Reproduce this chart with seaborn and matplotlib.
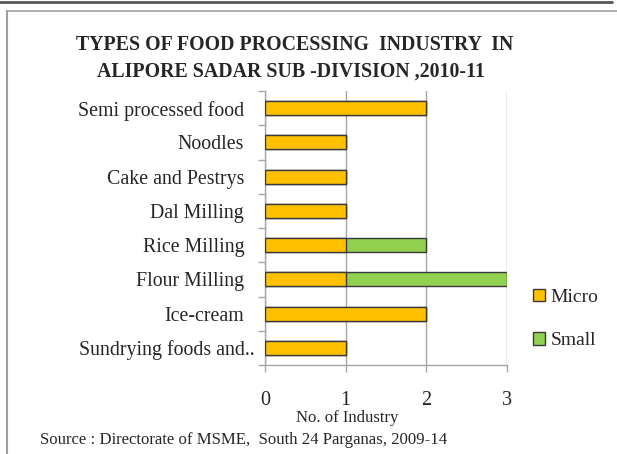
import matplotlib
matplotlib.use("Agg")
import matplotlib.pyplot as plt
import matplotlib.transforms as mtransforms
import seaborn as sns
import pandas as pd
from matplotlib.patches import Patch
from matplotlib.lines import Line2D

categories = ["Semi processed food", "Noodles", "Cake and Pestrys", "Dal Milling",
              "Rice Milling", "Flour Milling", "Ice-cream", "Sundrying foods and.."]
micro = [2, 1, 1, 1, 1, 1, 2, 1]
small = [0, 0, 0, 0, 1, 2, 0, 0]
x_ticks = [0, 1, 2, 3]

MICRO_C = "#FFC000"
SMALL_C = "#92D050"
EDGE = "#3a3a3a"
SERIF = ["Liberation Serif", "DejaVu Serif"]

sns.set_theme(style="white")
plt.rcParams["font.family"] = SERIF

df = pd.DataFrame({"cat": categories, "micro": micro,
                   "total": [m + s for m, s in zip(micro, small)]})

fig = plt.figure(figsize=(6.17, 4.54), dpi=100)
ax = fig.add_axes([265/617, 1-365/454, (507-265)/617, (365-91)/454])

sns.barplot(data=df, x="total", y="cat", orient="h", color=SMALL_C, width=0.41,
            edgecolor=EDGE, linewidth=1.0, saturation=1, ax=ax, zorder=3)
sns.barplot(data=df, x="micro", y="cat", orient="h", color=MICRO_C, width=0.41,
            edgecolor=EDGE, linewidth=1.0, saturation=1, ax=ax, zorder=4)

ax.set_xlim(0, 3)
ax.set_ylim(len(categories) - 0.5, -0.5)
ax.set_xticks(x_ticks)
ax.set_xticklabels([str(t) for t in x_ticks], fontsize=14.5)
ax.grid(axis="x", color="#A6A6A6", linewidth=1.0, zorder=0)
ax.grid(axis="y", visible=False)
for s in ["top", "right"]:
    ax.spines[s].set_visible(False)
for s in ["left", "bottom"]:
    ax.spines[s].set_color("#A6A6A6")
    ax.spines[s].set_linewidth(1.0)

ax.set_yticks(range(len(categories)))
ax.set_yticklabels(categories, fontsize=14.3)
ax.set_yticks([i - 0.5 for i in range(len(categories) + 1)], minor=True)
ax.tick_params(axis="y", which="major", length=0, pad=15)
ax.tick_params(axis="y", which="minor", length=5, color="#A6A6A6", width=1, left=True)
ax.tick_params(axis="x", which="major", length=5, color="#A6A6A6", width=1, pad=14, bottom=True)
ax.set_xlabel("")
ax.set_ylabel("")

# the truncated last label sits a little closer to the axis
last = ax.get_yticklabels()[-1]
last.set_transform(last.get_transform() + mtransforms.ScaledTranslation(10/100, 0, fig.dpi_scale_trans))

fig.text(295/617, 1-45/454, "TYPES OF FOOD PROCESSING  INDUSTRY  IN",
         ha="center", va="center", fontsize=14.3, fontweight="bold")
fig.text(291/617, 1-72/454, "ALIPORE SADAR SUB -DIVISION ,2010-11",
         ha="center", va="center", fontsize=14.3, fontweight="bold")
fig.text(347/617, 1-418/454, "No. of Industry", ha="center", va="center", fontsize=12)
fig.text(40/617, 1-440/454, "Source : Directorate of MSME,  South 24 Parganas, 2009-14",
         ha="left", va="center", fontsize=12.1)

handles = [Patch(facecolor=MICRO_C, edgecolor=EDGE, linewidth=1.0, label="Micro"),
           Patch(facecolor=SMALL_C, edgecolor=EDGE, linewidth=1.0, label="Small")]
fig.legend(handles=handles, loc="center left", bbox_to_anchor=(523/617, 1-319/454),
           frameon=False, fontsize=14, handlelength=0.62, handleheight=0.62,
           handletextpad=0.3, labelspacing=1.35, borderpad=0)

fig.add_artist(Line2D([0, 612/617], [1-1.5/454, 1-1.5/454], color="#555555", linewidth=2,
                      transform=fig.transFigure))
fig.add_artist(Line2D([7/617, 1], [1-11/454, 1-11/454], color="#A0A0A0", linewidth=1.2,
                      transform=fig.transFigure))
fig.add_artist(Line2D([7/617, 7/617], [0, 1-11/454], color="#A0A0A0", linewidth=1.5,
                      transform=fig.transFigure))

fig.savefig("out.png", dpi=100)
